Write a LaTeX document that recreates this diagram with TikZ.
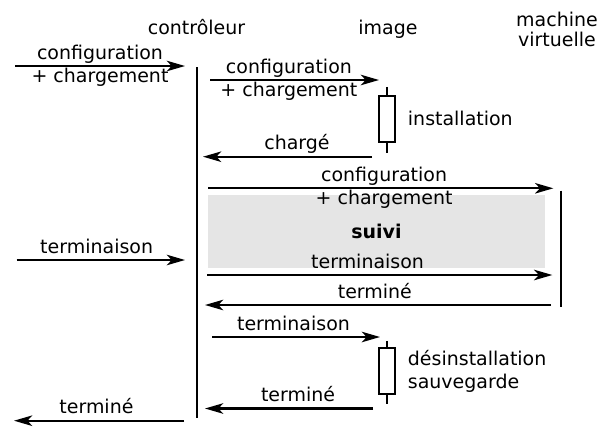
\documentclass[tikz,border=0pt]{standalone}
\usepackage{fontspec}
\setmainfont{DejaVu Sans}
\usetikzlibrary{positioning, arrows.meta}

\begin{document}
\begin{tikzpicture}[
		% GLOBAL CFG
		font=\fontsize{13.5}{16.4}\selectfont,
		>={Stealth[length=13pt, width=7.5pt, inset=3.5pt]},
		% Styles
		lifehead/.style={% For the names on top
			anchor=base,
			inner sep=0pt,
			align=center,
		},
		lifeline/.style={% For the life lines
			line width=1.5pt,
		},
		msg/.style={% For the messages
			->,
			line width=1.5pt,
		},
		lblup/.style={% label over a message
			anchor=base,
			inner sep=0pt,
			yshift=0.175cm,
		},
		lbldown/.style={% label under a message
			anchor=base,
			inner sep=0pt,
			yshift=-0.4125cm,
		},
		actbox/.style={% For the activation boxes
			rectangle,
			draw,
			line width=1.5pt,
			fill=white,
			minimum width=0.4cm,
			minimum height=1.14cm,
			inner sep=0pt,
		},
		actlabel/.style={% text next to a box
			inner sep=0pt,
			align=left,
		},
		zone/.style={% grey band
			rectangle,
			fill=black!10,
			minimum width=8.425cm,
			minimum height=1.8175cm,
			font=\fontsize{13.5}{16.4}\selectfont\bfseries,
		},
		]
		\useasboundingbox (0,0) rectangle (15.1,-10.65);
		
		% Draw the grey band first
		\node [zone] (suivi) at (9.4125,-5.784) {suivi};
		
		% Draw the names on top
		\node [lifehead] (ctl) at (4.9125,-0.85) {contrôleur};
		\node [lifehead] (img) at (9.7,-0.85) {image};
		\node [lifehead, anchor=north] (vm) at (13.925,-0.29) {machine\\[-1.7pt]virtuelle};
		
		% Life lines
		\coordinate (ctl1) at (4.9175,-1.675);
		\coordinate (ctl2) at (4.9175,-10.4575);
		\coordinate (vm1) at (14.0175,-4.7675);
		\coordinate (vm2) at (14.0175,-7.6625);
		\draw [lifeline] (ctl1) -- (ctl2);
		\draw [lifeline] (vm1) -- (vm2);
		
		% Activation boxes named act#
		\draw [lifeline] (9.675,-2.971) ++(0,0.8) -- ++(0,-1.65);
		\node [actbox] (act1) at (9.675,-2.971) {};
		\node [actlabel, right=0.29cm of act1] (inst) {installation};
		\draw [lifeline] (9.675,-9.279) ++(0,0.76) -- ++(0,-1.58);
		\node [actbox] (act2) at (9.675,-9.279) {};
		\node [actlabel, right=0.29cm of act2] (desinst) {désinstallation\\sauvegarde};
		
		% Ends of the messages
		\coordinate (m1a) at (0.375,-1.65);    \coordinate (m1b) at (4.625,-1.65);
		\coordinate (m2a) at (5.25,-2.0);      \coordinate (m2b) at (9.475,-2.0);
		\coordinate (m3a) at (9.3,-3.9175);    \coordinate (m3b) at (5.075,-3.9175);
		\coordinate (m4a) at (5.2,-4.7075);    \coordinate (m4b) at (13.8325,-4.7075);
		\coordinate (m5a) at (0.4175,-6.5);    \coordinate (m5b) at (4.625,-6.5);
		\coordinate (m6a) at (5.175,-6.875);   \coordinate (m6b) at (13.8075,-6.875);
		\coordinate (m7a) at (13.775,-7.625);  \coordinate (m7b) at (5.125,-7.625);
		\coordinate (m8a) at (5.3,-8.425);     \coordinate (m8b) at (9.5,-8.425);
		\coordinate (m9a) at (9.325,-10.2125); \coordinate (m9b) at (5.125,-10.2125);
		\coordinate (m10a) at (4.6,-10.5175);  \coordinate (m10b) at (0.35,-10.5175);
		
		% Messages
		\draw [msg] (m1a) -- (m1b) node[lblup, midway] {configuration} node[lbldown, midway] {+ chargement};
		\draw [msg] (m2a) -- (m2b) node[lblup, pos=0.467] {configuration} node[lbldown, pos=0.467] {+ chargement};
		\draw [msg] (m3a) -- (m3b) node[lblup, pos=0.444] {chargé};
		\draw [msg] (m4a) -- (m4b) node[lblup, pos=0.51] {configuration} node[lbldown, pos=0.51] {+ chargement};
		\draw [msg] (m5a) -- (m5b) node[lblup, pos=0.475] {terminaison};
		\draw [msg] (m6a) -- (m6b) node[lblup, pos=0.465] {terminaison};
		\draw [msg] (m7a) -- (m7b) node[lblup, pos=0.509] {terminé};
		\draw [msg] (m8a) -- (m8b) node[lblup, pos=0.485] {terminaison};
		\draw [msg] (m9a) -- (m9b) node[lblup, pos=0.446] {terminé};
		\draw [msg] (m10a) -- (m10b) node[lblup, pos=0.515] {terminé};
		
	\end{tikzpicture}
\end{document}
